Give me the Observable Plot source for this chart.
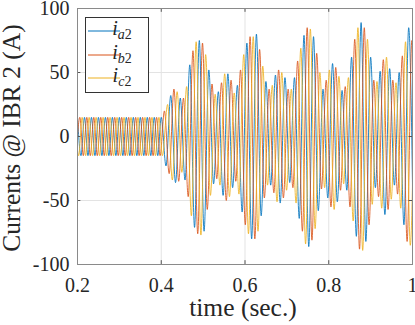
<!DOCTYPE html>
<html><head><meta charset="utf-8">
<script src="https://cdn.jsdelivr.net/npm/d3@7"></script>
<script src="https://cdn.jsdelivr.net/npm/@observablehq/plot@0.6"></script>
<style>body{margin:0;background:#fff} svg{display:block}</style>
</head><body><div id="chart"></div>
<script>
// ---- data ----
const seriesKeys = ["a", "b", "c"];
const seriesLabels = [["i", "a2"], ["i", "b2"], ["i", "c2"]];
const seriesColors = ["#0072BD", "#D95319", "#EDB120"];
const xTicks = [0.2, 0.4, 0.6, 0.8, 1];
const yTicks = [-100, -50, 0, 50, 100];
// half-period spacing between successive extrema (pre: 60 Hz, post: ~44 Hz)
const preHalf = 1 / 120;
const postHalf = 1 / 88;
// time of the first extremum of each phase, before and after the event
const preStart = [0.2, 0.19722, 0.19444];
const postStart = [0.41136, 0.40758, 0.41515];
// successive extrema (A) of each phase current
const aPre = [15,-15,15,-15,15,-15,15,-15,15,-15,15,-15,15,-15,15,-15,15,-15,15,-15,15,-15,15,-15,15];
const aPost = [-23,32,-36,30,-34,56,-71,75,-74,52,-37,35,-46,49,-40,40,-59,73,-80,80,-62,43,-38,48,-52,46,-36,46,-64,79,-86,78,-58,37,-48,57,-51,36,-42,62,-78,89,-82,62,-40,51,-61,53,-38,50,-69,85,-90];
const bPre = [-15,15,-15,15,-15,15,-15,15,-15,15,-15,15,-15,15,-15,15,-15,15,-15,15,-15,15,-15,15,-15];
const bPost = [20,-29,37,-35,30,-47,67,-76,73,-57,41,-33,42,-50,44,-35,52,-69,78,-80,68,-48,37,-44,52,-48,37,-40,59,-74,85,-81,65,-41,44,-55,54,-42,39,-55,76,-88,85,-69,44,-47,60,-57,44,-45,63,-82,75,-93];
const cPre = [15,-15,15,-15,15,-15,15,-15,15,-15,15,-15,15,-15,15,-15,15,-15,15,-15,15,-15,15,-15,15,-15];
const cPost = [25,-34,35,-28,39,-62,74,-77,64,-46,33,-38,49,-47,34,-45,64,-76,78,-74,55,-38,40,-51,50,-42,37,-52,69,-84,84,-72,50,-40,52,-57,47,-37,46,-66,85,-89,76,-53,43,-56,62,-49,42,-56,74,-85,92];
const preValues = [aPre, bPre, cPre];
const postValues = [aPost, bPost, cPost];

// ---- table ----
const rows = [];
seriesKeys.forEach((k, s) => {
  preValues[s].forEach((v, i) => rows.push({s: k, t: preStart[s] + i * preHalf, v}));
  postValues[s].forEach((v, i) => rows.push({s: k, t: postStart[s] + i * postHalf, v}));
});

const font = "'Liberation Serif', 'DejaVu Serif', serif";
const chart = Plot.plot({
  width: 415, height: 325,
  marginLeft: 77, marginRight: 3, marginTop: 8, marginBottom: 61,
  style: {fontFamily: font, background: "#fff", color: "#262626"},
  x: {domain: [0.2, 1]},
  y: {domain: [-100, 100]},
  color: {domain: seriesKeys, range: seriesColors},
  marks: [
    Plot.gridX(xTicks, {stroke: "#e3e3e3", strokeOpacity: 1}),
    Plot.gridY(yTicks, {stroke: "#e3e3e3", strokeOpacity: 1}),
    Plot.line(rows, {x: "t", y: "v", z: "s", stroke: "s", curve: "monotone-x", strokeWidth: 0.85, clip: true}),
    Plot.ruleX(xTicks, {x: d => d, y1: -100, y2: -97, stroke: "#555"}),
    Plot.ruleX(xTicks, {x: d => d, y1: 100, y2: 97, stroke: "#555"}),
    Plot.ruleY(yTicks, {y: d => d, x1: 0.2, x2: 0.208, stroke: "#555"}),
    Plot.ruleY(yTicks, {y: d => d, x1: 1, x2: 0.992, stroke: "#555"}),
    Plot.frame({stroke: "#8a8a8a"}),
    Plot.axisX(xTicks, {tickSize: 0, tickPadding: 13, fontSize: 20, tickFormat: d => String(d), label: null}),
    Plot.axisY(yTicks, {tickSize: 0, tickPadding: 8, fontSize: 20, tickFormat: d => String(d), label: null})
  ]
});
document.getElementById("chart").appendChild(chart);

// ---- axis titles and legend ----
const svg = d3.select(chart);
svg.append("text").attr("x", 243).attr("y", 316).attr("text-anchor", "middle")
  .attr("font-family", font).attr("font-size", 25.5).attr("fill", "#262626").text("time (sec.)");
svg.append("text").attr("transform", "translate(20,138) rotate(-90)").attr("text-anchor", "middle")
  .attr("font-family", font).attr("font-size", 25.5).attr("fill", "#262626").text("Currents @ IBR 2 (A)");

const lg = svg.append("g");
lg.append("rect").attr("x", 85.5).attr("y", 17.5).attr("width", 63).attr("height", 75)
  .style("fill", "#fff").style("stroke", "#333").style("stroke-width", 1);
const rowY = [31, 55, 78];
seriesKeys.forEach((k, i) => {
  lg.append("line").attr("x1", 88).attr("x2", 120).attr("y1", rowY[i]).attr("y2", rowY[i])
    .style("stroke", seriesColors[i]).style("stroke-width", 1);
  const t = lg.append("text").attr("x", 122).attr("y", rowY[i] + 4).attr("font-family", font)
    .attr("font-size", 20).style("fill", "#262626");
  t.append("tspan").attr("font-style", "italic").text(seriesLabels[i][0]);
  t.append("tspan").attr("font-size", 14).attr("dy", 4).attr("font-style", "italic").text(seriesLabels[i][1].slice(0, 1));
  t.append("tspan").attr("font-size", 14).text(seriesLabels[i][1].slice(1));
});
</script></body></html>
